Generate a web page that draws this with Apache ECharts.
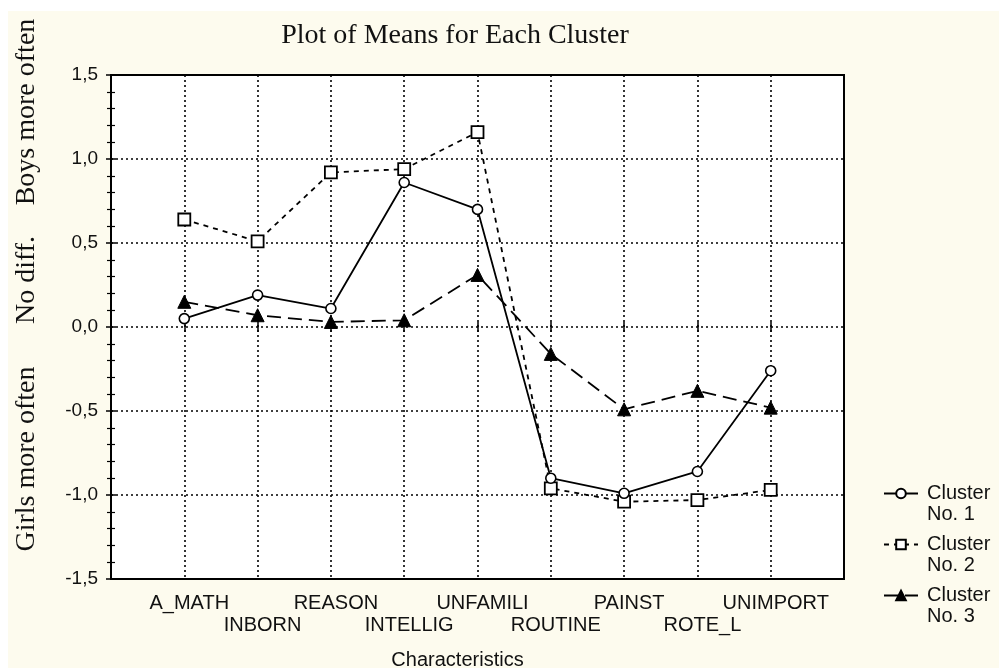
<!DOCTYPE html>
<html>
<head>
<meta charset="utf-8">
<script src="https://cdn.jsdelivr.net/npm/echarts@6/dist/echarts.min.js"></script>
<style>
  html, body { margin: 0; padding: 0; background: #fff; }
  #main { width: 999px; height: 668px; }
</style>
</head>
<body>
<div id="main"></div>
<script>
// characteristics on the x axis (one slot each, 1..9)
var categories = ['A_MATH', 'INBORN', 'REASON', 'INTELLIG', 'UNFAMILI', 'ROUTINE', 'PAINST', 'ROTE_L', 'UNIMPORT'];
var cluster1 = [0.05, 0.19, 0.11, 0.86, 0.70, -0.90, -0.99, -0.86, -0.26];
var cluster2 = [0.64, 0.51, 0.92, 0.94, 1.16, -0.96, -1.04, -1.03, -0.97];
var cluster3 = [0.15, 0.07, 0.03, 0.04, 0.31, -0.16, -0.49, -0.38, -0.48];
var yTicks = ['-1,5', '-1,0', '-0,5', '0,0', '0,5', '1,0', '1,5'];
var sideLabels = ['Boys more often', 'No diff.', 'Girls more often'];

var SERIF = '"Liberation Serif", "DejaVu Serif", serif';
var SANS = '"Liberation Sans", Arial, sans-serif';
var CREAM = '#fdfbee';

function toPoints(arr) {
    return arr.map(function (v, i) { return [i + 1, v]; });
}

var chartDom = document.getElementById('main');
var myChart = echarts.init(chartDom);

var dotted = { color: '#000', width: 1.6, type: [2, 3] };
var sideFont = '28px ' + SERIF;

var option = {
    backgroundColor: '#fff',
    animation: false,
    graphic: [
        { type: 'rect', z: -10, silent: true, shape: { x: 8, y: 11, width: 999, height: 668 }, style: { fill: CREAM } },
        { type: 'text', x: 455, y: 36, style: { text: 'Plot of Means for Each Cluster', font: '28px ' + SERIF, fill: '#111', align: 'center', verticalAlign: 'middle' } },
        { type: 'text', x: 27, y: 112, rotation: Math.PI / 2, style: { text: sideLabels[0], font: sideFont, fill: '#111', align: 'center', verticalAlign: 'middle' } },
        { type: 'text', x: 27, y: 280, rotation: Math.PI / 2, style: { text: sideLabels[1], font: sideFont, fill: '#111', align: 'center', verticalAlign: 'middle' } },
        { type: 'text', x: 27, y: 459, rotation: Math.PI / 2, style: { text: sideLabels[2], font: sideFont, fill: '#111', align: 'center', verticalAlign: 'middle' } }
    ],
    grid: {
        left: 111, right: 155, top: 75, bottom: 89,
        outerBoundsMode: 'none',
        show: true, backgroundColor: '#fff', borderColor: '#000', borderWidth: 2
    },
    legend: {
        orient: 'vertical',
        left: 878,
        top: 457,
        itemWidth: 34,
        itemHeight: 12,
        itemGap: -12,
        data: ['Cluster 1', 'Cluster 2', 'Cluster 3'],
        // blank first line so the icon sits level with "Cluster"
        formatter: function (name) {
            return ' \nCluster\nNo. ' + name.split(' ')[1];
        },
        textStyle: { fontFamily: SANS, fontSize: 20, color: '#111', lineHeight: 21, padding: [0, 0, 0, 4] }
    },
    xAxis: [{
        type: 'value',
        min: 0, max: 10, interval: 1,
        name: 'Characteristics',
        nameLocation: 'middle',
        nameGap: 71,
        nameTextStyle: { fontFamily: SANS, fontSize: 20, color: '#111', padding: [0, 40, 0, 0] },
        axisLine: { show: false },
        axisTick: { show: true, inside: true, length: 5, lineStyle: { color: '#000', width: 1.5 } },
        splitLine: { show: true, lineStyle: dotted },
        axisLabel: {
            margin: 13,
            fontFamily: SANS, fontSize: 20, color: '#111', lineHeight: 22,
            padding: [0, 0, 0, 10],
            formatter: function (v) {
                var i = Math.round(v) - 1;
                if (i < 0 || i >= categories.length) return '';
                return i % 2 === 0 ? categories[i] : '\n' + categories[i];
            }
        }
    }, {
        type: 'value', position: 'top',
        min: 0, max: 10, interval: 1,
        axisLine: { show: false },
        axisTick: { show: true, inside: true, length: 5, lineStyle: { color: '#000', width: 1.5 } },
        axisLabel: { show: false },
        splitLine: { show: false }
    }],
    yAxis: [{
        type: 'value',
        min: -1.5, max: 1.5, interval: 0.5,
        axisLine: { show: false },
        axisTick: { show: true, inside: true, length: 5, lineStyle: { color: '#000', width: 1.5 } },
        minorTick: { show: true, splitNumber: 5, length: 4, lineStyle: { color: '#000', width: 1.2 } },
        splitLine: { show: true, lineStyle: dotted },
        axisLabel: {
            margin: 13,
            fontFamily: SANS, fontSize: 19, color: '#111',
            formatter: function (v) {
                return yTicks[Math.round((v + 1.5) / 0.5)];
            }
        }
    }, {
        type: 'value', position: 'right',
        min: -1.5, max: 1.5, interval: 0.5,
        axisLine: { show: false },
        axisTick: { show: true, inside: true, length: 5, lineStyle: { color: '#000', width: 1.5 } },
        minorTick: { show: true, splitNumber: 5, length: 4, lineStyle: { color: '#000', width: 1.2 } },
        axisLabel: { show: false },
        splitLine: { show: false }
    }],
    series: [{
        name: 'Cluster 1',
        type: 'line',
        data: toPoints(cluster1),
        symbol: 'circle',
        symbolSize: 10,
        lineStyle: { color: '#000', width: 1.8, type: 'solid' },
        itemStyle: { color: '#fff', borderColor: '#000', borderWidth: 1.6 },
        z: 3
    }, {
        name: 'Cluster 2',
        type: 'line',
        data: toPoints(cluster2),
        symbol: 'rect',
        symbolSize: 12,
        lineStyle: { color: '#000', width: 1.8, type: [5, 5] },
        itemStyle: { color: '#fff', borderColor: '#000', borderWidth: 1.8 },
        z: 2
    }, {
        name: 'Cluster 3',
        type: 'line',
        data: toPoints(cluster3),
        symbol: 'triangle',
        symbolSize: 13,
        lineStyle: { color: '#000', width: 1.8, type: [14, 7] },
        itemStyle: { color: '#000', borderColor: '#000', borderWidth: 1 },
        z: 4
    }]
};

option && myChart.setOption(option);
</script>
</body>
</html>
